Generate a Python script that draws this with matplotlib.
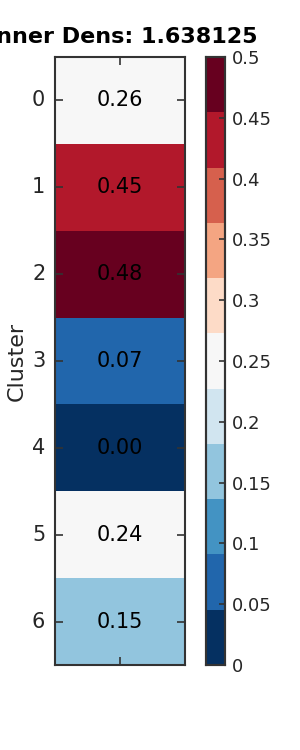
import numpy as np
import matplotlib
matplotlib.use("Agg")
import matplotlib.pyplot as plt
import seaborn as sns

clusters = ["0", "1", "2", "3", "4", "5", "6"]
values = [0.26, 0.45, 0.48, 0.07, 0.00, 0.24, 0.15]
title = "Inner Dens: 1.638125"
cbar_ticks = [0, 0.05, 0.1, 0.15, 0.2, 0.25, 0.3, 0.35, 0.4, 0.45, 0.5]
cbar_ticklabels = ["0", "0.05", "0.1", "0.15", "0.2", "0.25", "0.3", "0.35", "0.4", "0.45", "0.5"]

plt.rcParams['font.family'] = ['DejaVu Sans']
fig = plt.figure(figsize=(3, 7.5), dpi=100)
ax = fig.add_axes([55/300, 1-665/750, 130/300, 608/750])
cax = fig.add_axes([206/300, 1-665/750, 19/300, 608/750])

data = np.array(values).reshape(-1, 1)
cmap = plt.get_cmap("RdBu_r", 11)
sns.heatmap(data, ax=ax, cbar_ax=cax, cmap=cmap, vmin=0, vmax=0.5,
            annot=True, fmt=".2f", annot_kws={"size": 15, "color": "black"},
            yticklabels=clusters, xticklabels=[""])

ax.set_ylabel("Cluster", fontsize=16, color="#262626", labelpad=4)
ax.set_title(title, fontsize=16, fontweight="bold", pad=10, x=0.52)
for s in ax.spines.values():
    s.set_visible(True)
    s.set_color("#333333")
    s.set_linewidth(1.5)
ax.tick_params(axis='both', direction='in', length=6, width=1.2, color="#333333",
               labelsize=15, labelcolor="#262626", left=True, right=True, top=True, bottom=True)
ax.tick_params(axis='y', rotation=0, pad=7)

cax.set_yticks(cbar_ticks)
cax.set_yticklabels(cbar_ticklabels)
cax.tick_params(direction='in', length=4, width=1.2, color="#333333",
                labelsize=13, labelcolor="#262626", pad=5)
for s in cax.spines.values():
    s.set_visible(True)
    s.set_color("#333333")
    s.set_linewidth(1.5)

fig.savefig("out.png", dpi=100)
